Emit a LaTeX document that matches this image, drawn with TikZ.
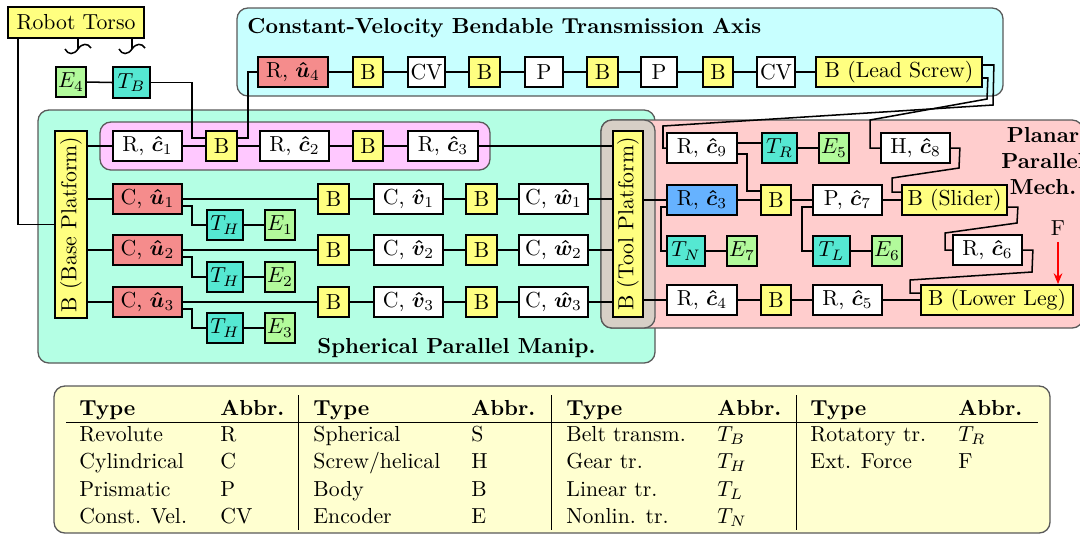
\documentclass[tikz,border=0pt]{standalone}
\usepackage{amsmath}
\usepackage{bm}
\usetikzlibrary{arrows.meta,calc}
\definecolor{cbody}{RGB}{255,255,128}
\definecolor{cact}{RGB}{245,140,140}
\definecolor{ctrans}{RGB}{85,232,210}
\definecolor{cenc}{RGB}{178,250,155}
\definecolor{cblue}{RGB}{102,178,255}
\definecolor{ccyan}{RGB}{200,255,255}
\definecolor{cteal}{RGB}{180,255,228}
\definecolor{cpink}{RGB}{255,200,255}
\definecolor{cplanar}{RGB}{255,205,205}
\definecolor{cgray}{RGB}{215,207,198}
\definecolor{ctable}{RGB}{255,255,208}
\newcommand\myc[1]{\bm{\hat{c}}_{#1}}
\newcommand\myu[1]{\bm{\hat{u}}_{#1}}
\newcommand\myv[1]{\bm{\hat{v}}_{#1}}
\newcommand\myw[1]{\bm{\hat{w}}_{#1}}
\newcommand\bx[7]{\node[#6,minimum width={(#4-#2)*0.46pt},minimum height={(#5-#3)*0.46pt}] (#1) at ({(#2+#4)/2},{(#3+#5)/2}) {#7};}
\newcommand\tc[4]{\node[tabtxt,anchor=base west] (#1) at (#2,#3) {#4};}
\newcommand\thd[4]{\node[hd,anchor=base west] (#1) at (#2,#3) {#4};}
\begin{document}
\begin{tikzpicture}[x=0.46pt,y=-0.46pt,
  blk/.style={draw=black,line width=0.8pt,inner sep=0.5pt},
  body/.style={blk,fill=cbody},
  joint/.style={blk,fill=white},
  act/.style={blk,fill=cact},
  trans/.style={blk,fill=ctrans},
  enc/.style={blk,fill=cenc},
  blu/.style={blk,fill=cblue},
  wire/.style={line width=0.7pt},
  region/.style={draw=black!65,line width=0.6pt,rounded corners=5pt},
  lbl/.style={font=\bfseries,inner sep=0pt},
  tabtxt/.style={inner sep=0pt},
  hd/.style={tabtxt,font=\bfseries}]
\useasboundingbox (0,0) rectangle (1080,534);

% regions
\path[region,fill=ccyan] (237,8) rectangle (1003,96);
\path[region,fill=cteal] (38,110) rectangle (655,363);
\path[region,fill=cpink] (100,122) rectangle (490,170);
\path[region,fill=cplanar] (601,120) rectangle (1083,328);
\path[region,fill=cgray] (601,120) rectangle (655,328);
\path[region,fill=ctable] (54,386) rectangle (1050,533);

% labels
\node[lbl,anchor=base west] (ttl1) at (247,33) {Constant-Velocity Bendable Transmission Axis};
\node[lbl,anchor=base west] (ttl2) at (317,353) {Spherical Parallel Manip.};
\node[lbl,align=center] (ttl3) at (1043,161) {Planar\\Parallel\\Mech.};

% torso and belt
\bx{torso}{8}{7}{144}{38}{body}{Robot Torso}
\bx{e4}{56}{67}{86}{97}{enc}{$E_4$}
\bx{tbelt}{113}{67}{150}{98}{trans}{$T_B$}
\draw[wire] (78,38) -- (78,49);
\draw[wire] (65,49) .. controls (68,55) and (74,55) .. (78,49) .. controls (82,43) and (88,43) .. (91,48);
\draw[wire] (132,38) -- (132,49);
\draw[wire] (119,49) .. controls (122,55) and (128,55) .. (132,49) .. controls (136,43) and (142,43) .. (145,48);

% top chain
\bx{ru4}{258}{57}{328}{87}{act}{R, $\myu{4}$}
\bx{tB1}{353}{57}{383}{87}{body}{B}
\bx{tCV1}{408}{57}{445}{87}{joint}{CV}
\bx{tB2}{469}{57}{500}{87}{body}{B}
\bx{tP1}{525}{57}{563}{87}{joint}{P}
\bx{tB3}{587}{57}{618}{87}{body}{B}
\bx{tP2}{641}{57}{677}{87}{joint}{P}
\bx{tB4}{703}{57}{733}{87}{body}{B}
\bx{tCV2}{757}{57}{795}{87}{joint}{CV}
\bx{lead}{816}{57}{982}{87}{body}{B (Lead Screw)}

% pink row
\bx{rc1}{113}{131}{182}{161}{joint}{R, $\myc{1}$}
\bx{pB1}{206}{131}{237}{161}{body}{B}
\bx{rc2}{260}{131}{329}{161}{joint}{R, $\myc{2}$}
\bx{pB2}{353}{131}{383}{161}{body}{B}
\bx{rc3}{408}{131}{478}{161}{joint}{R, $\myc{3}$}

% platforms
\node[body,rotate=90,minimum width={187*0.46pt},minimum height={32*0.46pt}] (bp) at (71,224.5) {B (Base Platform)};
\node[body,rotate=90,minimum width={186*0.46pt},minimum height={30*0.46pt}] (tp) at (628,224) {B (Tool Platform)};

% spherical legs
\bx{cu1}{113}{184}{182}{214}{act}{C, $\myu{1}$}
\bx{cu2}{113}{235}{182}{265}{act}{C, $\myu{2}$}
\bx{cu3}{113}{287}{182}{317}{act}{C, $\myu{3}$}
\bx{th1}{207}{210}{243}{240}{trans}{$T_H$}
\bx{th2}{207}{262}{243}{292}{trans}{$T_H$}
\bx{th3}{207}{313}{243}{343}{trans}{$T_H$}
\bx{e1}{265}{210}{295}{240}{enc}{$E_1$}
\bx{e2}{265}{262}{295}{292}{enc}{$E_2$}
\bx{e3}{265}{313}{295}{343}{enc}{$E_3$}
\bx{sa1}{318}{184}{349}{214}{body}{B}
\bx{sa2}{318}{235}{349}{265}{body}{B}
\bx{sa3}{318}{287}{349}{317}{body}{B}
\bx{cv1}{374}{184}{443}{214}{joint}{C, $\myv{1}$}
\bx{cv2}{374}{235}{443}{265}{joint}{C, $\myv{2}$}
\bx{cv3}{374}{287}{443}{317}{joint}{C, $\myv{3}$}
\bx{sb1}{466}{184}{497}{214}{body}{B}
\bx{sb2}{466}{235}{497}{265}{body}{B}
\bx{sb3}{466}{287}{497}{317}{body}{B}
\bx{cw1}{519}{184}{588}{214}{joint}{C, $\myw{1}$}
\bx{cw2}{519}{235}{588}{265}{joint}{C, $\myw{2}$}
\bx{cw3}{519}{287}{588}{317}{joint}{C, $\myw{3}$}

% planar mechanism
\bx{rc9}{667}{133}{737}{163}{joint}{R, $\myc{9}$}
\bx{trr}{762}{133}{797}{163}{trans}{$T_R$}
\bx{e5}{819}{133}{849}{163}{enc}{$E_5$}
\bx{hc8}{881}{133}{950}{163}{joint}{H, $\myc{8}$}
\bx{rc3b}{667}{185}{737}{215}{blu}{R, $\myc{3}$}
\bx{pB5}{761}{185}{791}{215}{body}{B}
\bx{pc7}{813}{185}{882}{215}{joint}{P, $\myc{7}$}
\bx{slider}{902}{185}{1007}{215}{body}{B (Slider)}
\bx{tn}{667}{236}{705}{266}{trans}{$T_N$}
\bx{e7}{727}{236}{757}{266}{enc}{$E_7$}
\bx{tl}{813}{236}{850}{266}{trans}{$T_L$}
\bx{e6}{872}{236}{902}{266}{enc}{$E_6$}
\bx{rc6}{953}{235}{1022}{265}{joint}{R, $\myc{6}$}
\bx{rc4}{667}{285}{737}{315}{joint}{R, $\myc{4}$}
\bx{pB6}{761}{285}{791}{315}{body}{B}
\bx{rc5}{813}{285}{882}{315}{joint}{R, $\myc{5}$}
\bx{ll}{921}{285}{1073}{315}{body}{B (Lower Leg)}
\node[inner sep=0pt] (fF) at (1058,228) {F};
\draw[line width=0.7pt,red,-{Stealth[length=5pt,width=4pt]}] ($(fF.south)+(0,6)$) -- (fF.south |- ll.north);

% connectors: top
\foreach \a/\b in {ru4/tB1,tB1/tCV1,tCV1/tB2,tB2/tP1,tP1/tB3,tB3/tP2,tP2/tB4,tB4/tCV2,tCV2/lead}
  \draw[wire] (\a.east) -- (\b.west);
\draw[wire] (e4.east) -- (tbelt.west);
\draw[wire] (tbelt.east) -| ($(pB1.west)+(-13,-8)$) -- ($(pB1.west)+(0,-8)$);
\draw[wire] (ru4.west) -| ($(pB1.east)+(10,-8)$) -- ($(pB1.east)+(0,-8)$);
\draw[wire] ($(torso.south west)+(11,0)$) |- (bp.north);

% pink row
\foreach \a/\b in {rc1/pB1,pB1/rc2,rc2/pB2,pB2/rc3}
  \draw[wire] (\a.east) -- (\b.west);
\draw[wire] (rc1.west -| bp.south) -- (rc1.west);
\draw[wire] (rc3.east) -- (rc3.east -| tp.north);

% spherical legs
\foreach \i in {1,2,3}{
  \draw[wire] (cu\i.west -| bp.south) -- (cu\i.west);
  \draw[wire] (cu\i.east) -- (sa\i.west);
  \draw[wire] (sa\i.east) -- (cv\i.west);
  \draw[wire] (cv\i.east) -- (sb\i.west);
  \draw[wire] (sb\i.east) -- (cw\i.west);
  \draw[wire] (cw\i.east) -- (cw\i.east -| tp.north);
  \draw[wire] ($(cu\i.east)+(0,7)$) -| ($(th\i.west)+(-14,0)$) -- (th\i.west);
  \draw[wire] (th\i.east) -- (e\i.west);
}

% planar
\draw[wire] (rc3b.west -| tp.south) -- (rc3b.west);
\draw[wire] (rc4.west -| tp.south) -- (rc4.west);
\draw[wire] (rc4.east) -- (pB6.west);
\draw[wire] (pB6.east) -- (rc5.west);
\draw[wire] (rc5.east) -- (ll.west);
\draw[wire] ($(rc9.east)+(0,-5)$) -- ($(trr.west)+(0,-5)$);
\draw[wire] (trr.east) -- (e5.west);
\draw[wire] ($(rc9.east)+(0,6)$) -| ($(pB5.west)+(-13,-9)$) -- ($(pB5.west)+(0,-9)$);
\draw[wire] (rc3b.east) -- (pB5.west);
\draw[wire] (pB5.east) -- (pc7.west);
\draw[wire] (pc7.east) -- (slider.west);
\draw[wire] ($(pc7.west)+(0,7)$) -| ($(tl.west)+(-10,0)$) -- (tl.west);
\draw[wire] ($(rc3b.west)+(0,7)$) -| ($(tn.west)+(-5,0)$) -- (tn.west);
\draw[wire] (tn.east) -- (e7.west);
\draw[wire] (tl.east) -- (e6.west);
\draw[wire] ($(lead.east)+(0,-7)$) -- ++(11,0) -- (993,105) -- (663,126) |- (rc9.west);
\draw[wire] ($(lead.east)+(0,6)$) -- ++(5,0) -- (987,99) -- (870,120) |- (hc8.west);
\draw[wire] (hc8.east) -- ++(9,0) -- (959,168) -- (892,178) |- ($(slider.west)+(0,-8)$);
\draw[wire] ($(slider.east)+(0,7)$) -- ++(10,0) -- (1017,223) -- (945,233) |- (rc6.west);
\draw[wire] (rc6.east) -- ++(10,0) -- (1032,272) -- (910,280) |- ($(ll.west)+(0,-7)$);

% table
\draw[line width=0.45pt] (66,422) -- (1038,422);
\foreach \x in {298,551,796} \draw[line width=0.45pt] (\x,395) -- (\x,530);
\thd{h1}{79}{415}{Type}
\thd{a1}{220}{415}{Abbr.}
\thd{h2}{313}{415}{Type}
\thd{a2}{471}{415}{Abbr.}
\thd{h3}{566}{415}{Type}
\thd{a3}{717}{415}{Abbr.}
\thd{h4}{810}{415}{Type}
\thd{a4}{958}{415}{Abbr.}
\tc{r11}{79}{441}{Revolute}
\tc{r12}{220}{441}{R}
\tc{r13}{313}{441}{Spherical}
\tc{r14}{471}{441}{S}
\tc{r15}{566}{441}{Belt transm.}
\tc{r16}{717}{441}{$T_B$}
\tc{r17}{810}{441}{Rotatory tr.}
\tc{r18}{958}{441}{$T_R$}
\tc{r21}{79}{468.5}{Cylindrical}
\tc{r22}{220}{468.5}{C}
\tc{r23}{313}{468.5}{Screw/helical}
\tc{r24}{471}{468.5}{H}
\tc{r25}{566}{468.5}{Gear tr.}
\tc{r26}{717}{468.5}{$T_H$}
\tc{r27}{810}{468.5}{Ext. Force}
\tc{r28}{958}{468.5}{F}
\tc{r31}{79}{496}{Prismatic}
\tc{r32}{220}{496}{P}
\tc{r33}{313}{496}{Body}
\tc{r34}{471}{496}{B}
\tc{r35}{566}{496}{Linear tr.}
\tc{r36}{717}{496}{$T_L$}
\tc{r41}{79}{523.5}{Const. Vel.}
\tc{r42}{220}{523.5}{CV}
\tc{r43}{313}{523.5}{Encoder}
\tc{r44}{471}{523.5}{E}
\tc{r45}{566}{523.5}{Nonlin. tr.}
\tc{r46}{717}{523.5}{$T_N$}
\end{tikzpicture}
\end{document}
